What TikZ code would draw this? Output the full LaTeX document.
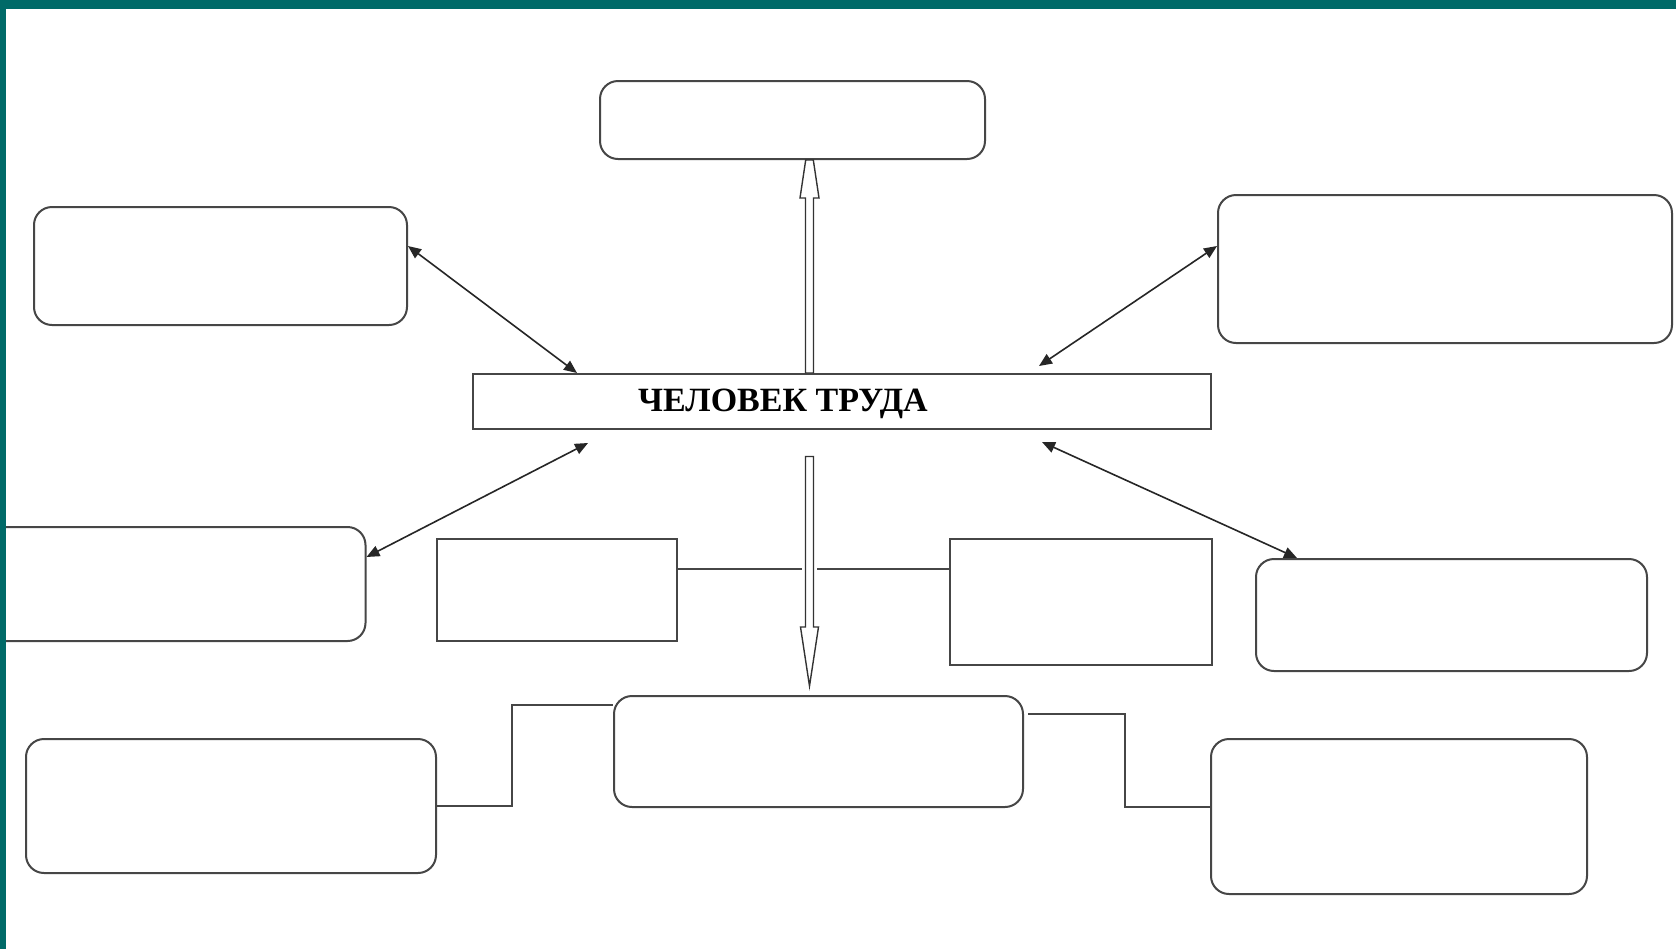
\documentclass[tikz,border=0pt]{standalone}
\usepackage{fontspec}
\setmainfont{Liberation Serif}
\usetikzlibrary{fit,calc,arrows.meta}
\definecolor{frameteal}{RGB}{0,106,104}
\definecolor{edge}{RGB}{70,70,70}
\tikzset{
  rbox/.style={draw=edge, line width=1pt, rounded corners=9pt, inner sep=0pt, fill=white},
  sbox/.style={draw=edge, line width=1pt, inner sep=0pt, fill=white},
  dbl/.style={draw=black!85, line width=0.8pt, {Triangle[length=6.5pt,width=5.5pt]}-{Triangle[length=6.5pt,width=5.5pt]}},
  conn/.style={draw=edge, line width=1pt},
  hollow/.style={draw=black!80, line width=0.7pt, fill=white},
}
\begin{document}
\begin{tikzpicture}[x=0.5pt,y=-0.5pt]
\path[use as bounding box] (0,0) rectangle (1676,949);
\clip (0,0) rectangle (1676,949);
\fill[white] (0,0) rectangle (1676,949);

% boxes
\node[rbox, fit={(600,81) (985,159)}] (top) {};
\node[rbox, fit={(34,207) (407,325)}] (tl) {};
\node[rbox, fit={(1218,195) (1672,343)}] (tr) {};
\node[sbox, fit={(472.5,374) (1211,428.5)}] (ctr) {};
\node[anchor=base, font=\bfseries\fontsize{17}{20}\selectfont] (ctrlabel) at (783,411.5) {ЧЕЛОВЕК ТРУДА};
\node[rbox, fit={(-30,527) (365.5,641)}] (ml) {};
\node[sbox, fit={(436.5,539) (677,641)}] (sl) {};
\node[sbox, fit={(950,539) (1211.5,665)}] (sr) {};
\node[rbox, fit={(1256,559) (1647,671)}] (mr) {};
\node[rbox, fit={(614,696) (1023,807)}] (bc) {};
\node[rbox, fit={(26,739) (436,873)}] (bl) {};
\node[rbox, fit={(1211,739) (1587,894)}] (br) {};

\coordinate (ax) at (809.5,0);
\coordinate (hl) at (0,569);

% double-headed arrows
\draw[dbl] ($(tl.east)+(0,-20)$) -- ($(ctr.north west)+(105.5,0)$);
\draw[dbl] ($(tr.west)+(0,-23)$) -- ($(ctr.north east)+(-173,-7)$);
\draw[dbl] ($(ml.east)+(0,-27)$) -- ($(ctr.south west)+(116.5,13.5)$);
\draw[dbl] ($(mr.north west)+(42,0)$) -- ($(ctr.south east)+(-170,12.5)$);

% horizontal line between small boxes, with a gap round the arrow stem
\draw[conn] (sl.east |- hl) -- (sr.west |- hl);
\fill[white] ($(ax |- hl)+(-8,-4)$) rectangle ($(ax |- hl)+(7,4)$);

% hollow up arrow
\draw[hollow]
  ($(ctr.north -| ax)+(-4,0)$) -- ($(top.south -| ax)+(-4,38)$) -- ($(top.south -| ax)+(-9.5,38)$)
  -- ($(top.south -| ax)+(-3.8,0)$) -- ($(top.south -| ax)+(3.8,0)$) -- ($(top.south -| ax)+(9.5,38)$)
  -- ($(top.south -| ax)+(4,38)$) -- ($(ctr.north -| ax)+(4,0)$) -- cycle;

% hollow down arrow
\coordinate (dtip) at ($(bc.north -| ax)+(0,-9)$);
\draw[hollow]
  ($(ctr.south -| ax)+(-4,27)$) -- ($(dtip)+(-4,-59)$) -- ($(dtip)+(-9,-59)$) -- (dtip)
  -- ($(dtip)+(9,-59)$) -- ($(dtip)+(4,-59)$) -- ($(ctr.south -| ax)+(4,27)$) -- cycle;

% elbow connectors
\draw[conn] (bl.east) -- ++(75,0) |- ($(bc.west)+(0,-46.5)$);
\draw[conn] ($(bc.east)+(4,-37.5)$) -- ++(97,0) |- ($(br.west)+(0,-10)$);

% teal frame
\fill[frameteal] (0,0) rectangle (1676,9);
\fill[frameteal] (0,0) rectangle (6,949);
\end{tikzpicture}
\end{document}
